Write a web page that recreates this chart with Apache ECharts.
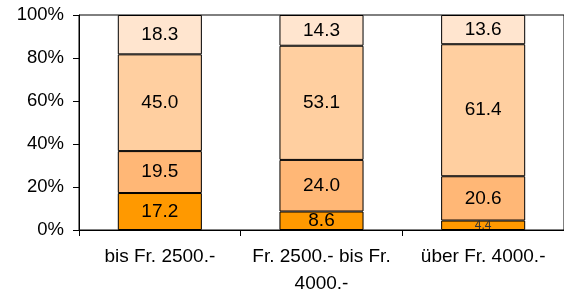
<!DOCTYPE html>
<html>
<head>
<meta charset="utf-8">
<script src="https://cdn.jsdelivr.net/npm/echarts@6/dist/echarts.min.js"></script>
<style>
  html, body { margin: 0; padding: 0; background: #fff; }
  #chart { width: 564px; height: 297px; }
</style>
</head>
<body>
<div id="chart"></div>
<script>
const categories = ['bis Fr. 2500.-', 'Fr. 2500.- bis Fr.\n4000.-', 'über Fr. 4000.-']
const s1 = [17.2, 8.6, 4.4]
const s2 = [19.5, 24.0, 20.6]
const s3 = [45.0, 53.1, 61.4]
const s4 = [18.3, 14.3, 13.6]
const colors = ['#FF9900', '#FFB776', '#FFCFA0', '#FFE5CF']

const chart = echarts.init(document.getElementById('chart'))

function bar(data, i) {
  return {
    type: 'bar',
    stack: 'total',
    data: data.map(v => {
      // the small slice gets a smaller label
      if (v < 6) return { value: v, label: { fontSize: 12, color: '#333' } }
      return v
    }),
    barWidth: '52%',
    itemStyle: { color: colors[i], borderColor: '#000', borderWidth: 1 },
    label: {
      show: true,
      position: 'inside',
      color: '#000',
      fontSize: 19,
      fontFamily: 'Liberation Sans',
      formatter: p => p.value.toFixed(1),
    },
  }
}

chart.setOption({
  animation: false,
  grid: {
    left: 79, right: -4, top: 15, bottom: 67,
    show: true, borderColor: '#000', borderWidth: 1,
  },
  xAxis: {
    type: 'category',
    data: categories,
    axisLine: { lineStyle: { color: '#000' } },
    axisTick: { show: true, length: 6, lineStyle: { color: '#000' } },
    axisLabel: {
      color: '#000', fontSize: 19, fontFamily: 'Liberation Sans',
      margin: 13, lineHeight: 27, interval: 0,
    },
  },
  yAxis: {
    type: 'value',
    min: 0, max: 100, interval: 20,
    splitLine: { show: false },
    axisLine: { show: true, lineStyle: { color: '#000' } },
    axisTick: { show: true, length: 6, lineStyle: { color: '#000' } },
    axisLabel: {
      color: '#000', fontSize: 18.5, fontFamily: 'Liberation Sans',
      formatter: '{value}%', margin: 15,
    },
  },
  series: [bar(s1, 0), bar(s2, 1), bar(s3, 2), bar(s4, 3)],
})
</script>
</body>
</html>
